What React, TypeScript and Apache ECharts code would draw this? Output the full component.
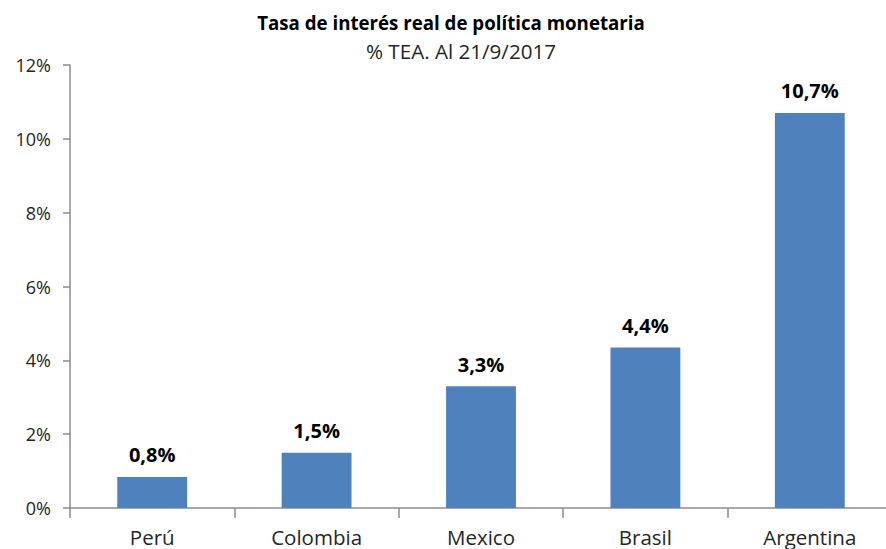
import React, { useEffect, useRef } from "react";
import * as echarts from "echarts";

const categories = ["Perú", "Colombia", "Mexico", "Brasil", "Argentina"];
const values = [0.84, 1.5, 3.3, 4.35, 10.7];
const valueLabels = ["0,8%", "1,5%", "3,3%", "4,4%", "10,7%"];
const titleText = "Tasa de interés real de política monetaria";
const subtitleText = "% TEA. Al 21/9/2017";

const FONT = "'Open Sans', Lato, sans-serif";

export default function App() {
  const ref = useRef<HTMLDivElement>(null);
  useEffect(() => {
    if (!ref.current) return;
    const chart = echarts.init(ref.current, undefined, { renderer: "svg" });
    chart.setOption({
      animation: false,
      backgroundColor: "#ffffff",
      textStyle: { fontFamily: FONT },
      title: [
        {
          text: titleText,
          left: 446,
          top: 8,
          textAlign: "center",
          textStyle: { fontFamily: FONT, fontSize: 18.7, fontWeight: "bold", color: "#000000" },
        },
        {
          text: subtitleText,
          left: 456,
          top: 35,
          textAlign: "center",
          textStyle: { fontFamily: FONT, fontSize: 20.6, fontWeight: "normal", color: "#262626" },
        },
      ],
      grid: { left: 70, right: 0, top: 65, bottom: 41, containLabel: false },
      xAxis: {
        type: "category",
        data: categories,
        axisLine: { show: true, lineStyle: { color: "#8c8c8c", width: 1.5 } },
        axisTick: { show: true, length: 10, alignWithLabel: false, lineStyle: { color: "#8c8c8c", width: 1.5 } },
        axisLabel: { margin: 18, fontFamily: FONT, fontSize: 20.5, color: "#262626", interval: 0 },
      },
      yAxis: {
        type: "value",
        min: 0,
        max: 12,
        interval: 2,
        axisLine: { show: true, lineStyle: { color: "#8c8c8c", width: 1.5 } },
        axisTick: { show: true, length: 7, lineStyle: { color: "#8c8c8c", width: 1.5 } },
        splitLine: { show: false },
        axisLabel: {
          formatter: "{value}%",
          margin: 19,
          fontFamily: FONT,
          fontSize: 18,
          color: "#262626",
        },
      },
      series: [
        {
          type: "bar",
          data: values,
          barWidth: "42.5%",
          itemStyle: { color: "#4f81bd" },
          label: {
            show: true,
            position: "top",
            distance: 12,
            fontFamily: FONT,
            fontSize: 20,
            fontWeight: "bold",
            color: "#000000",
            formatter: (p: any) => valueLabels[p.dataIndex],
          },
        },
      ],
    });
    return () => chart.dispose();
  }, []);
  return (
    <div
      style={{ position: "fixed", left: 0, top: 0, width: 886, height: 549, overflow: "hidden", background: "#ffffff" }}
    >
      <div ref={ref} style={{ width: 892, height: 549 }} />
    </div>
  );
}
